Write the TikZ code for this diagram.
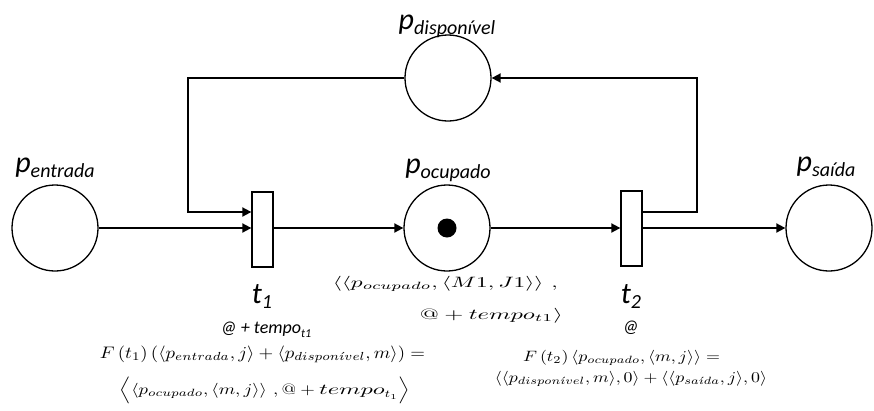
\documentclass[tikz,border=0pt]{standalone}
\usepackage{amsmath}
\usepackage{graphicx}
\usepackage{fontspec}
\newfontfamily\carl{Carlito}
\usetikzlibrary{arrows.meta,calc}
\newcommand{\plab}[2]{{\carl\itshape\fontsize{30}{32}\selectfont #1\raisebox{-5pt}{\fontsize{20}{22}\selectfont #2}}}
\newcommand{\atlab}[1]{{\carl\itshape\fontsize{18}{20}\selectfont #1}}
\newcommand{\fml}[3]{\resizebox{#1}{#2\height}{$#3$}}
\begin{document}
\begin{tikzpicture}[x=1pt,y=-1pt,
  place/.style={circle,draw,line width=1.3pt,minimum size=86pt,inner sep=0pt},
  trans/.style={rectangle,draw,line width=1.3pt,minimum width=21pt,minimum height=75pt,inner sep=0pt},
  arc/.style={line width=1.8pt,-{Triangle[length=9pt,width=9pt]}},
  lbl/.style={anchor=base,inner sep=0pt},
  mth/.style={anchor=base,inner sep=0pt,font=\fontsize{10}{12}\selectfont}]
\useasboundingbox (0,0) rectangle (874,410);

% places
\node[place] (ent) at (55,228) {};
\node[place] (occ) at (447,228) {};
\node[place] (disp) at (448,78) {};
\node[place] (sai) at (829,228) {};
\node[circle,fill=black,minimum size=19pt,inner sep=0pt] (tok) at (447,228) {};

% transitions
\node[trans] (t1) at (262.5,229.5) {};
\node[trans] (t2) at (631.5,228.5) {};

% corner coordinates
\coordinate (c1) at (188,212);
\coordinate (c2) at (697,212);

% arcs
\draw[arc] (ent.east) -- (ent.east -| t1.west);
\draw[arc] (disp.west) -| (c1) -- (c1 -| t1.west);
\draw[arc] (t1.east |- occ.west) -- (occ.west);
\draw[arc] (occ.east) -- (occ.east -| t2.west);
\draw[arc] (c2 -| t2.east) -- (c2) |- (disp.east);
\draw[arc] (t2.east |- sai.west) -- (sai.west);

% place labels
\node[lbl] (Lent) at (55,172) {\plab{p}{entrada}};
\node[lbl] (Ldisp) at (447,29) {\plab{p}{disponível}};
\node[lbl] (Locc) at (448,173) {\plab{p}{ocupado}};
\node[lbl] (Lsai) at (826,171) {\plab{p}{saída}};

% transition labels
\node[lbl] (Lt1) at (262,303) {\plab{t}{1}};
\node[lbl] (Lt2) at (631,303) {\plab{t}{2}};
\node[lbl] (At1) at (266,333) {\atlab{@ + tempo\raisebox{-4pt}{\fontsize{12}{13}\selectfont t1}}};
\node[lbl] (At2) at (631,332) {\atlab{@}};

% token formula
\node[mth,anchor=base east] (M1) at (558,287)
  {\fml{225pt}{1.5}{\langle\langle p_{ocupado}, \langle M1, J1\rangle\rangle\ ,}};
\node[mth,anchor=base east] (M2) at (563,319)
  {\fml{143pt}{1.5}{@ + tempo_{t1}\rangle}};

% t1 function
\node[mth] (F1a) at (262.5,358)
  {\fml{325pt}{1.67}{F\left(t_1\right)\left(\langle p_{entrada}, j\rangle + \langle p_{dispon\acute{\imath}vel}, m\rangle\right) =}};
\node[mth] (F1b) at (265,394)
  {\fml{290pt}{1.5}{\Big\langle\langle p_{ocupado}, \langle m, j\rangle\rangle\ , @ + \scalebox{1.3}[1]{$tempo$}_{t_1}\Big\rangle}};

% t2 function
\node[mth] (F2a) at (621.5,361)
  {\fml{197pt}{1.5}{F\left(t_2\right)\left\langle p_{ocupado}, \langle m, j\rangle\right\rangle =}};
\node[mth] (F2b) at (631,382)
  {\fml{272pt}{1.5}{\left\langle\langle p_{dispon\acute{\imath}vel}, m\rangle, 0\right\rangle + \left\langle\langle p_{sa\acute{\imath}da}, j\rangle, 0\right\rangle}};
\end{tikzpicture}
\end{document}
